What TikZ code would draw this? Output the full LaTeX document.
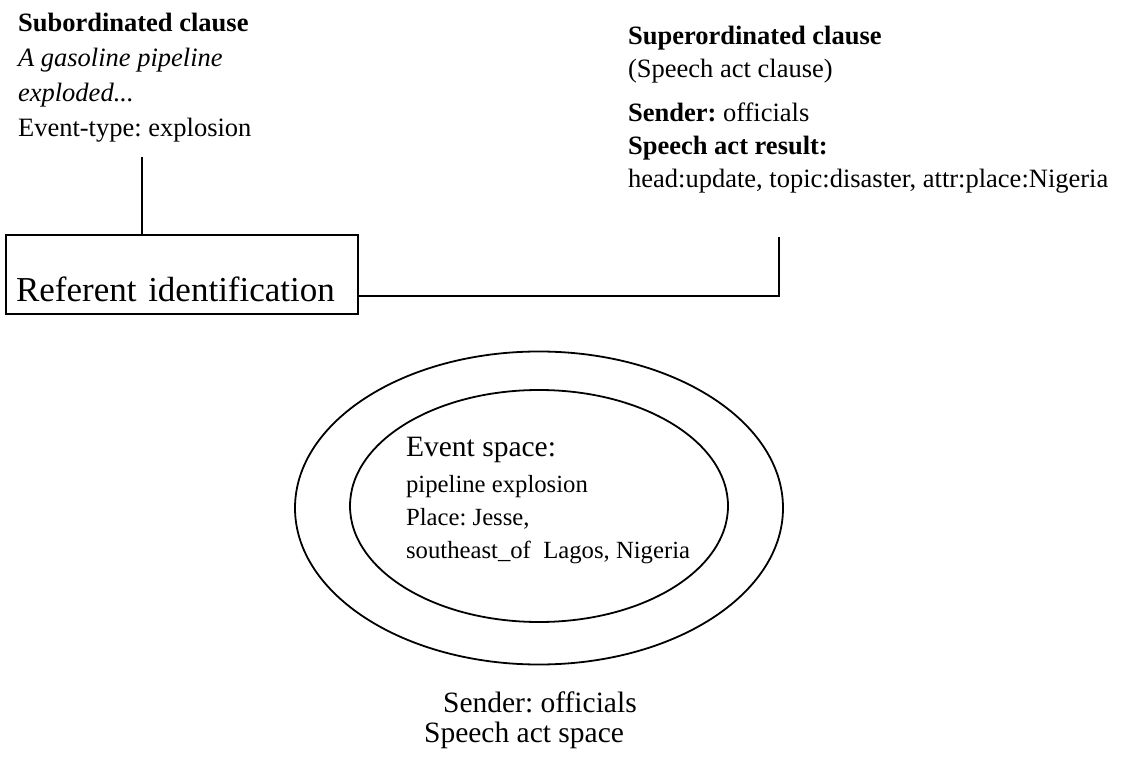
\documentclass[tikz,border=0pt]{standalone}
\usepackage{fontspec}
\setmainfont{Liberation Serif}
\frenchspacing
\usetikzlibrary{shapes.geometric}
\tikzstyle{txt}=[anchor=base west,inner sep=0pt,align=left,
                 font=\fontsize{13.25}{17.5}\selectfont]
\tikzstyle{bigtxt}=[anchor=base west,inner sep=0pt,
                    font=\fontsize{14.75}{18}\selectfont]
\tikzstyle{space}=[ellipse,draw=black,line width=0.9pt,inner sep=0pt]

\begin{document}
\begin{tikzpicture}[x=0.5pt,y=-0.5pt,line width=1.1pt]
    \useasboundingbox (0,0) rectangle (1123,758);
    % the two clauses (placed by the baseline of their last line)
    \node (sub) at (17,137) [txt]{\textbf{Subordinated clause}\\
      \textit{A gasoline pipeline}\\ \textit{exploded...}\\
      Event-type: explosion};
    \node (super) at (627,78) [txt,font=\fontsize{13.25}{16.5}\selectfont]{%
      \textbf{Superordinated clause}\\ (Speech act clause)};
    \node (result) at (627,188) [txt,font=\fontsize{13.25}{16.5}\selectfont]{%
      \textbf{Sender:} officials\\ \textbf{Speech act result:}\\
      head:update, topic:disaster, attr:place:Nigeria};
    \node (refid) at (5,234) [anchor=north west,draw,inner xsep=5pt,
      inner ysep=0pt,text width=166pt,text height=33pt,text depth=6.5pt,
      font=\fontsize{17.5}{20}\selectfont]{Referent identification};
    \coordinate (subend) at (142,157);
    \coordinate (superend) at (779,237);
    \coordinate (junction) at (779,296);
    \draw (subend) -- (subend |- refid.north);
    \draw (refid.east |- junction) -- (junction) -- (superend);
    % spaces
    \node (speech) at (539,508) [space,minimum width=244pt,
      minimum height=156.5pt]{};
    \node (event) at (539,506) [space,minimum width=189pt,
      minimum height=116pt]{};
    \node (evhead) at (405,457) [bigtxt]{Event space:};
    \node (evbody) at (405,558) [txt,font=\fontsize{12.35}{16.25}\selectfont]{%
      pipeline explosion\\ Place: Jesse,\\ southeast\_of~~Lagos, Nigeria};
    \node (sender) at (442,712) [bigtxt]{Sender: officials};
    \node (spspace) at (423,742) [bigtxt]{Speech act space};
\end{tikzpicture}
\end{document}
